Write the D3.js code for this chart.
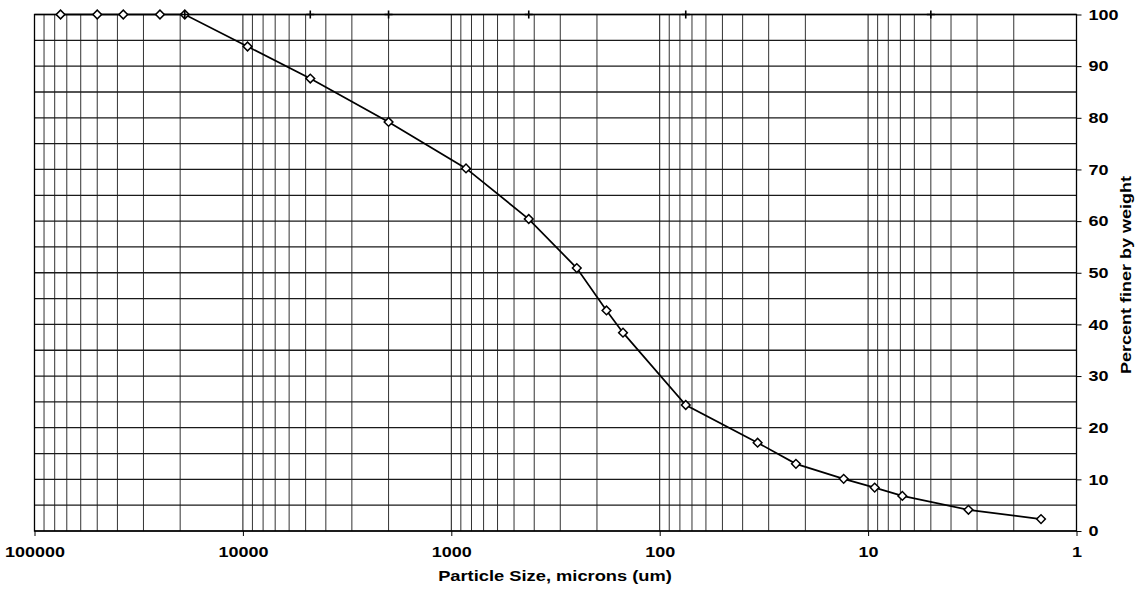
<!DOCTYPE html>
<html lang="en">
<head>
	<meta charset="utf-8">
	<script src="https://cdnjs.cloudflare.com/ajax/libs/d3/7.8.5/d3.min.js"></script>
	<style>
		body{ margin:0; background:#fff; }
		text{ font-family:"Liberation Sans", Arial, sans-serif; font-weight:bold; fill:#000; }
	</style>
</head>
<body>
<svg id="chart" width="1141" height="600"></svg>

<script>
	// particle size distribution (sieve + hydrometer)
	const sizes   = [75000, 50000, 37500, 25000, 19000, 9500, 4750, 2000, 850, 425, 250, 180, 150, 75,
	                 33.9, 22.2, 13.1, 9.3, 6.85, 3.3, 1.48];
	const percent = [100, 100, 100, 100, 100, 93.8, 87.6, 79.2, 70.2, 60.4, 50.9, 42.7, 38.4, 24.4,
	                 17.1, 13.0, 10.1, 8.4, 6.8, 4.1, 2.3];

	// "+" marks along the top edge
	const plusSizes   = [19000, 4750, 2000, 425, 75, 5];
	const plusPercent = [100, 100, 100, 100, 100, 100];

	const xTicks = [100000, 10000, 1000, 100, 10, 1];
	const yTicks = [0, 10, 20, 30, 40, 50, 60, 70, 80, 90, 100];

	const plotL = 34.5, plotR = 1076.5, plotT = 14.5, plotB = 531;
	const svg = d3.select('#chart');

	const x = d3.scaleLog().domain([100000, 1]).range([plotL, plotR]);
	const y = d3.scaleLinear().domain([0, 100]).range([plotB, plotT]);

	// grid
	svg.append('g')
		.selectAll('line')
		.data(x.ticks())
		.enter().append('line')
		.attr('x1', d => x(d)).attr('x2', d => x(d))
		.attr('y1', plotT).attr('y2', plotB)
		.attr('stroke', d => xTicks.includes(d) ? '#111' : '#333')
		.attr('stroke-width', 1);

	svg.append('g')
		.selectAll('line')
		.data(y.ticks(20))
		.enter().append('line')
		.attr('x1', plotL).attr('x2', plotR)
		.attr('y1', d => y(d)).attr('y2', d => y(d))
		.attr('stroke', '#1a1a1a')
		.attr('stroke-width', 1.3);

	svg.append('rect')
		.attr('x', plotL).attr('y', plotT)
		.attr('width', plotR - plotL).attr('height', plotB - plotT)
		.attr('fill', 'none').attr('stroke', '#000').attr('stroke-width', 1.3);

	// axes
	const xAxis = svg.append('g')
		.attr('transform', `translate(0,${plotB})`)
		.call(d3.axisBottom(x).tickValues(xTicks).tickFormat(d3.format('d')).tickSize(5).tickPadding(10));
	xAxis.select('.domain').remove();
	xAxis.selectAll('text')
		.attr('font-size', 15)
		.attr('font-family', '"Liberation Sans", Arial, sans-serif')
		.attr('transform', 'scale(1.2,1)');

	const yAxis = svg.append('g')
		.attr('transform', `translate(${plotR},0)`)
		.call(d3.axisRight(y).tickValues(yTicks).tickSize(5));
	yAxis.select('.domain').remove();
	yAxis.selectAll('text')
		.attr('x', 10)
		.attr('font-size', 15)
		.attr('font-family', '"Liberation Sans", Arial, sans-serif')
		.attr('transform', 'scale(1.2,1)');

	svg.append('text')
		.attr('transform', `translate(555,581) scale(1.22,1)`)
		.attr('text-anchor', 'middle')
		.attr('font-size', 15)
		.text('Particle Size, microns (um)');

	svg.append('text')
		.attr('transform', `translate(1131,275) rotate(-90) scale(1.2,1)`)
		.attr('text-anchor', 'middle')
		.attr('font-size', 15)
		.text('Percent finer by weight');

	// curve
	const pts = sizes.map((s, i) => [s, percent[i]]);
	svg.append('path')
		.datum(pts)
		.attr('fill', 'none')
		.attr('stroke', '#000')
		.attr('stroke-width', 1.7)
		.attr('d', d3.line().x(d => x(d[0])).y(d => y(d[1])));

	svg.append('g')
		.selectAll('path')
		.data(pts)
		.enter().append('path')
		.attr('transform', d => `translate(${x(d[0])},${y(d[1])}) rotate(45)`)
		.attr('d', d3.symbol().type(d3.symbolSquare).size(38))
		.attr('fill', '#fff')
		.attr('stroke', '#000')
		.attr('stroke-width', 1.5);

	svg.append('g')
		.selectAll('path')
		.data(plusSizes.map((s, i) => [s, plusPercent[i]]))
		.enter().append('path')
		.attr('transform', d => `translate(${x(d[0])},${y(d[1])})`)
		.attr('d', 'M-4,0H4M0,-4V4')
		.attr('stroke', '#000')
		.attr('stroke-width', 1.6);
</script>
</body>
</html>
